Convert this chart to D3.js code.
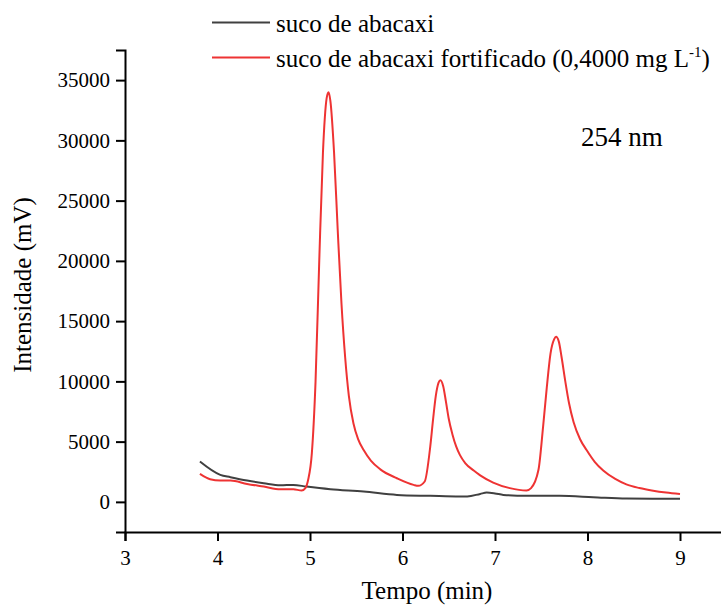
<!DOCTYPE html>
<html><head><meta charset="utf-8">
<script src="https://cdn.jsdelivr.net/npm/d3@7"></script>
<style>body{margin:0;background:#fff}svg{display:block}</style>
</head><body><svg id="c" width="721" height="607"></svg>
<script>
// Data
const timeBlank = [3.81,4.03,4.14,4.32,4.50,4.68,4.82,4.96,5.22,5.58,5.94,6.30,6.62,6.70,6.84,6.91,7.00,7.09,7.34,7.70,8.06,8.42,8.70,9.00];
const signalBlank = [3345,2240,2050,1770,1550,1380,1410,1270,1050,860,580,500,440,450,660,770,700,580,500,500,390,270,250,250];
const timeSpiked = [3.81,3.92,4.03,4.14,4.32,4.50,4.68,4.82,4.91,4.95,4.98,5.02,5.06,5.10,5.14,5.18,5.20,5.22,5.26,5.30,5.34,5.38,5.42,5.47,5.52,5.58,5.66,5.76,5.94,6.12,6.17,6.24,6.30,6.33,6.36,6.39,6.41,6.44,6.47,6.50,6.54,6.58,6.62,6.68,6.77,6.84,6.98,7.16,7.34,7.39,7.47,7.52,7.56,7.60,7.64,7.66,7.69,7.72,7.76,7.80,7.85,7.92,7.99,8.08,8.17,8.30,8.42,8.56,8.71,8.85,9.00];
const signalSpiked = [2320,1880,1770,1770,1490,1270,1050,1050,940,1140,1830,4040,10000,20000,29000,33500,34000,33300,29000,22500,16500,12000,8800,6500,5200,4300,3400,2700,1960,1410,1330,1690,4590,6800,8800,9900,10100,9600,8300,6900,5600,4600,3900,3200,2600,2200,1600,1140,940,1140,2660,6250,9500,12300,13500,13700,13300,12000,10000,8200,6600,5200,4300,3300,2600,1900,1450,1150,930,780,660];
const xTicks = [3,4,5,6,7,8,9];
const yTicks = [0,5000,10000,15000,20000,25000,30000,35000];
const seriesNames = ["suco de abacaxi","suco de abacaxi fortificado (0,4000 mg L"];

const FONT = "'Liberation Serif','Times New Roman',Times,'DejaVu Serif',serif";
const svg = d3.select("#c");
const x = d3.scaleLinear().domain([3, 9.5]).range([125, 726.25]);
const y = d3.scaleLinear().domain([-2500, 37500]).range([532, 50]);

// Axes
const gx = svg.append("g").attr("transform","translate(0,532)");
gx.call(d3.axisBottom(x).tickValues(d3.range(3.5, 9.6, 1)).tickSize(5).tickFormat(""));
gx.call(d3.axisBottom(x).tickValues(xTicks).tickSize(9).tickPadding(8).tickFormat(d3.format("d")));
const gy = svg.append("g").attr("transform","translate(125,0)");
gy.call(d3.axisLeft(y).tickValues(d3.range(-2500, 37600, 5000)).tickSize(5).tickFormat(""));
gy.call(d3.axisLeft(y).tickValues(yTicks).tickSize(9).tickPadding(6).tickFormat(d3.format("d")));
svg.selectAll("g").attr("font-family", null);
svg.selectAll(".domain").attr("stroke","#000").attr("stroke-width",2);
svg.selectAll(".tick line").attr("stroke","#000").attr("stroke-width",2);
svg.selectAll(".tick text").attr("font-size",21).style("font-family",FONT).attr("fill","#000");
gx.selectAll(".tick text").attr("dy","0.75em");

// Lines
const line = (xs, ys) => d3.line().curve(d3.curveMonotoneX).x((d,i)=>x(xs[i])).y((d,i)=>y(ys[i]))(xs);
svg.append("path").attr("d", line(timeBlank, signalBlank)).attr("fill","none").attr("stroke","#404040").attr("stroke-width",2);
svg.append("path").attr("d", line(timeSpiked, signalSpiked)).attr("fill","none").attr("stroke","#ee3333").attr("stroke-width",2);

// Axis titles
svg.append("text").attr("x", 427).attr("y", 599).attr("text-anchor","middle").attr("font-size",25).style("font-family",FONT).text("Tempo (min)");
svg.append("text").attr("transform","translate(31,285) rotate(-90)").attr("text-anchor","middle").attr("font-size",25).style("font-family",FONT).text("Intensidade (mV)");

// Annotation
svg.append("text").attr("x", 581).attr("y", 146).attr("font-size",27).style("font-family",FONT).text("254 nm");

// Legend
const lg = svg.append("g");
const colors = ["#404040","#ee3333"];
const ly = [22.5, 57.5];
seriesNames.forEach((n,i)=>{
  lg.append("line").attr("x1",212).attr("x2",270).attr("y1",ly[i]).attr("y2",ly[i]).attr("stroke",colors[i]).attr("stroke-width",2);
  const t = lg.append("text").attr("x",276).attr("y",ly[i]+9).attr("font-size",25).style("font-family",FONT).text(n);
  if(i===1){
    t.append("tspan").attr("font-size",15).attr("dy",-10).text("-1");
    t.append("tspan").attr("dy",10).text(")");
  }
});
</script></body></html>
